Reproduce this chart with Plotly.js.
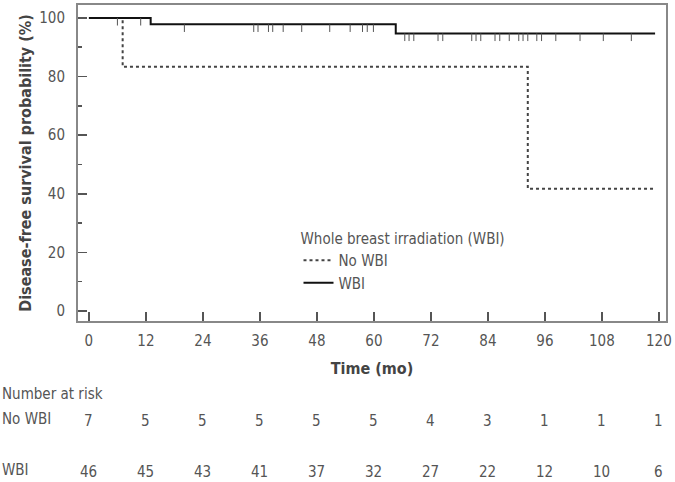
<!DOCTYPE html>
<html><head><meta charset="utf-8">
<script src="https://cdn.plot.ly/plotly-3.0.1.min.js"></script>
<style>body{margin:0;padding:0;background:#fff}#chart{width:675px;height:482px}</style>
</head><body><div id="chart"></div>
<script>
// Kaplan-Meier step data
const noWbiTime = [0, 7.1, 92.4, 119.2];
const noWbiSurv = [100, 83.3, 41.7, 41.7];
const wbiTime = [0, 13.0, 64.6, 119.2];
const wbiSurv = [100, 97.8, 94.7, 94.7];
// censoring marks (WBI)
const wbiCensor = [6.0, 10.9, 20.1, 34.7, 35.6, 37.8, 38.7, 40.9, 44.8, 50.7, 55.0, 57.6, 58.6, 59.9,
  66.5, 67.4, 68.4, 73.5, 74.5, 80.6, 81.5, 82.5, 85.5, 86.5, 88.5, 90.5, 91.4, 92.4, 94.3, 95.3, 98.3, 103.4, 108.3, 114.2];
// number at risk
const riskTimes = [0, 12, 24, 36, 48, 60, 72, 84, 96, 108, 120];
const riskNoWbi = [7, 5, 5, 5, 5, 5, 4, 3, 1, 1, 1];
const riskWbi = [46, 45, 43, 41, 37, 32, 27, 22, 12, 10, 6];
const groupNames = ["No WBI", "WBI"];

function stepAt(ts, ss, t) {
  let v = ss[0];
  for (let i = 0; i < ts.length; i++) if (t >= ts[i]) v = ss[i];
  return v;
}

const FONT = "'DejaVu Sans Condensed', 'Liberation Sans Narrow', 'Open Sans', sans-serif";
const TXT = '#555';

const traces = [
  {x: noWbiTime, y: noWbiSurv, type: 'scatter', mode: 'lines', line: {shape: 'hv', dash: 'dot', width: 2, color: '#444'}, name: groupNames[0]},
  {x: wbiTime, y: wbiSurv, type: 'scatter', mode: 'lines', line: {shape: 'hv', width: 2, color: '#111'}, name: groupNames[1]},
  {x: wbiCensor, y: wbiCensor.map(t => stepAt(wbiTime, wbiSurv, t)), type: 'scatter', mode: 'markers', showlegend: false,
   marker: {size: 0, color: 'rgba(0,0,0,0)'}, hoverinfo: 'skip',
   error_y: {type: 'constant', symmetric: false, value: 0, valueminus: 2.6, width: 0, thickness: 1, color: '#555'}}
];

const annotations = [];
const af = {family: FONT, size: 15, color: TXT};
annotations.push({xref: 'paper', yref: 'paper', x: -0.1327, y: -0.23, xanchor: 'left', yanchor: 'middle', text: 'Number at risk', showarrow: false, font: af});
annotations.push({xref: 'paper', yref: 'paper', x: -0.1327, y: -0.31, xanchor: 'left', yanchor: 'middle', text: groupNames[0], showarrow: false, font: af});
annotations.push({xref: 'paper', yref: 'paper', x: -0.1327, y: -0.47, xanchor: 'left', yanchor: 'middle', text: groupNames[1], showarrow: false, font: af});
riskTimes.forEach((t, i) => {
  annotations.push({xref: 'x', yref: 'paper', x: t, y: -0.318, xanchor: 'center', yanchor: 'middle', text: String(riskNoWbi[i]), showarrow: false, font: af});
  annotations.push({xref: 'x', yref: 'paper', x: t, y: -0.478, xanchor: 'center', yanchor: 'middle', text: String(riskWbi[i]), showarrow: false, font: af});
});

const layout = {
  width: 675, height: 482,
  margin: {l: 78, r: 9, t: 5, b: 161},
  paper_bgcolor: '#fff', plot_bgcolor: '#fff',
  font: {family: FONT, size: 15, color: TXT},
  showlegend: true,
  legend: {x: 0.375, y: 0.305, xanchor: 'left', yanchor: 'top', bgcolor: 'rgba(0,0,0,0)',
    title: {text: 'Whole breast irradiation (WBI)', font: af},
    font: af, tracegroupgap: 0},
  xaxis: {range: [-2.3, 121.5], tickvals: riskTimes, ticks: 'inside', ticklen: 9, tickwidth: 1.5, tickcolor: '#555',
    showline: true, mirror: true, linecolor: '#888', linewidth: 2, showgrid: false, zeroline: false,
    ticklabelstandoff: 5,
    tickfont: af,
    title: {text: 'Time (mo)', font: {family: FONT, size: 16, color: '#444', weight: 'bold'}, standoff: 14}},
  yaxis: {range: [-3.4, 104.4], tickvals: [0, 20, 40, 60, 80, 100], ticks: 'inside', ticklen: 9, tickwidth: 1.5, tickcolor: '#555',
    minor: {tickvals: [10, 30, 50, 70, 90], ticks: 'inside', ticklen: 4, tickcolor: '#555'},
    showline: true, mirror: true, linecolor: '#888', linewidth: 2, showgrid: false, zeroline: false,
    ticklabelstandoff: 8,
    tickfont: af,
    title: {text: 'Disease-free survival probability (%)', font: {family: FONT, size: 16, color: '#444', weight: 'bold'}, standoff: 4}},
  annotations: annotations
};
Plotly.newPlot('chart', traces, layout, {displayModeBar: false, staticPlot: true});
</script></body></html>
